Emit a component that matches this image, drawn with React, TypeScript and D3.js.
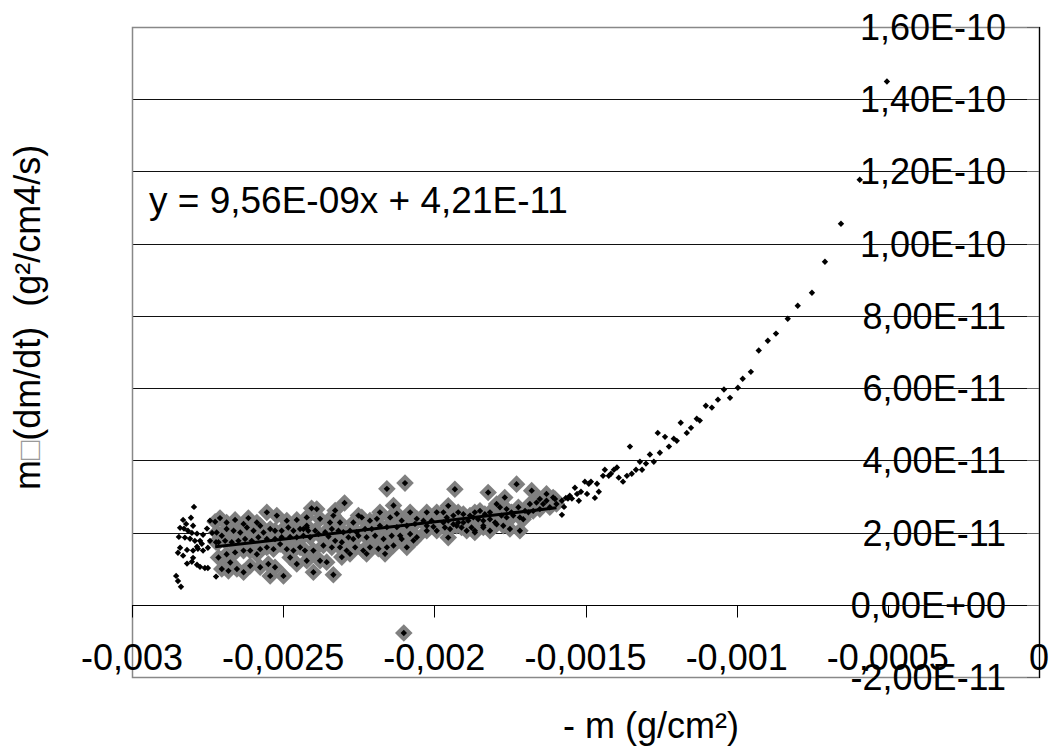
import React, { useRef, useEffect } from 'react';
import * as d3 from 'd3';

// values are given in units of 1e-4 (x) and 1e-11 (y)
const X_UNIT = 1e-4;
const Y_UNIT = 1e-11;

// early points, black markers only
const leftTail: [number, number][] = [
  [-27.95, 2.71], [-28.05, 2.41], [-28.31, 2.35], [-28.21, 2.24], [-27.98, 2.19], [-28.41, 2.13],
  [-28.28, 2.11], [-28.15, 2.05], [-28.02, 1.99], [-27.85, 1.97], [-28.45, 1.88], [-28.25, 1.86],
  [-28.08, 1.83], [-27.92, 1.77], [-27.75, 1.77], [-27.65, 1.94], [-27.69, 1.69], [-27.85, 1.61],
  [-28.41, 1.58], [-28.18, 1.52], [-27.98, 1.5], [-27.82, 1.55], [-27.65, 1.5], [-28.48, 1.44],
  [-28.31, 1.36], [-27.98, 1.3], [-28.02, 1.19], [-28.18, 1.14], [-27.85, 1.11], [-27.75, 1.05],
  [-27.59, 1.02], [-27.49, 1.02], [-27.42, 2.33], [-27.52, 2.11], [-28.54, 0.8], [-28.48, 0.66],
  [-28.38, 0.5], [-27.22, 0.78], [-27.35, 1.99], [-27.42, 1.77], [-27.49, 1.58],
];

// points used for the linear fit (grey markers)
const fitPoints: [number, number][] = [
  [-27.25, 2.3], [-27.09, 2.4], [-26.87, 2.28], [-26.59, 2.35], [-26.31, 2.24], [-26.15, 2.4],
  [-25.87, 2.28], [-25.54, 2.56], [-25.21, 2.47], [-24.88, 2.33], [-24.55, 2.35], [-24.22, 2.42],
  [-27.2, 2.0], [-27.03, 1.91], [-26.87, 2.1], [-26.64, 2.05], [-26.42, 2.0], [-26.2, 2.14],
  [-25.98, 2.05], [-25.76, 2.19], [-25.65, 2.0], [-25.43, 2.1], [-25.27, 2.05], [-25.05, 2.05],
  [-24.83, 2.14], [-24.66, 2.05], [-24.44, 2.1], [-24.22, 2.14], [-27.22, 1.73], [-27.14, 1.73],
  [-26.92, 1.77], [-26.7, 1.73], [-26.48, 1.77], [-26.26, 1.82], [-26.04, 1.77], [-25.82, 1.87],
  [-25.54, 1.82], [-25.27, 1.82], [-25.05, 1.87], [-24.77, 1.88], [-24.55, 1.87], [-24.33, 1.91],
  [-27.14, 1.31], [-26.87, 1.4], [-26.59, 1.45], [-26.31, 1.5], [-26.09, 1.5], [-25.76, 1.54],
  [-25.54, 1.59], [-25.32, 1.54], [-25.1, 1.68], [-24.88, 1.54], [-24.66, 1.5], [-24.44, 1.59],
  [-27.03, 0.99], [-26.81, 0.94], [-26.53, 0.99], [-26.31, 0.9], [-26.09, 1.08], [-25.76, 1.04],
  [-25.49, 1.13], [-25.27, 1.04], [-24.99, 0.8], [-25.43, 0.8], [-26.75, 1.17], [-25.87, 1.4],
  [-24.77, 1.31], [-24.55, 1.13], [-24.22, 1.22],
  [-21.57, 3.21], [-20.97, 3.37], [-22.97, 2.82], [-24.06, 2.67], [-23.89, 2.65], [-23.28, 2.61],
  [-23.34, 2.47], [-22.51, 2.47], [-22.4, 2.42], [-21.8, 2.56], [-21.35, 2.75], [-21.24, 2.52],
  [-20.8, 2.56], [-20.25, 2.56], [-19.92, 2.56], [-20.58, 2.38], [-20.36, 2.33], [-20.09, 2.33],
  [-21.08, 2.33], [-21.46, 2.42], [-21.9, 2.38], [-22.13, 2.33], [-22.68, 2.28], [-23.12, 2.28],
  [-23.45, 2.28], [-23.78, 2.38], [-24.22, 2.19], [-24.33, 2.1], [-24.17, 2.05], [-23.94, 2.05],
  [-23.61, 2.01], [-23.39, 2.1], [-23.17, 2.05], [-23.01, 2.01], [-22.79, 2.05], [-22.57, 2.01],
  [-22.29, 2.1], [-22.07, 2.1], [-21.8, 2.19], [-21.57, 2.15], [-21.24, 2.15], [-20.91, 2.19],
  [-20.64, 2.24], [-20.25, 2.19], [-20.03, 2.16], [-24.11, 1.87], [-23.83, 1.96], [-23.5, 1.89],
  [-23.28, 1.77], [-23.06, 1.73], [-22.84, 1.87], [-22.68, 1.82], [-22.51, 1.91], [-22.24, 1.87],
  [-21.96, 1.91], [-21.68, 1.82], [-21.41, 1.91], [-21.13, 1.91], [-20.8, 1.96], [-20.58, 1.87],
  [-20.25, 2.05], [-19.92, 2.05], [-24.0, 1.5], [-23.67, 1.64], [-23.39, 1.59], [-23.12, 1.59],
  [-22.9, 1.5], [-22.62, 1.59], [-22.35, 1.5], [-22.13, 1.59], [-21.85, 1.55], [-21.57, 1.59],
  [-21.35, 1.64], [-21.08, 1.82], [-20.91, 1.59], [-20.69, 1.78], [-24.28, 1.5], [-23.56, 1.18],
  [-23.06, 1.32], [-22.79, 1.41], [-22.24, 1.41], [-21.63, 1.41], [-24.0, 0.9], [-23.34, 0.83],
  [-23.78, 1.22], [-21.01, -0.78],
  [-19.32, 3.2], [-18.22, 3.11], [-17.28, 3.34], [-17.67, 2.97], [-16.78, 3.16], [-16.29, 3.07],
  [-19.7, 2.56], [-19.54, 2.74], [-19.37, 2.47], [-19.21, 2.56], [-19.04, 2.51], [-18.82, 2.47],
  [-18.66, 2.56], [-18.49, 2.6], [-18.33, 2.51], [-18.16, 2.56], [-17.94, 2.79], [-17.83, 2.7],
  [-17.61, 2.65], [-17.45, 2.56], [-17.22, 2.7], [-17.0, 2.6], [-16.84, 2.79], [-16.62, 2.83],
  [-16.51, 2.93], [-16.4, 2.79], [-16.29, 2.88], [-16.07, 2.97], [-16.01, 2.93], [-15.96, 2.79],
  [-16.18, 2.7], [-19.7, 2.28], [-19.54, 2.33], [-19.37, 2.23], [-19.21, 2.28], [-19.04, 2.28],
  [-18.88, 2.33], [-18.71, 2.42], [-18.55, 2.37], [-18.38, 2.33], [-18.16, 2.37], [-17.99, 2.28],
  [-17.78, 2.47], [-17.61, 2.42], [-17.39, 2.47], [-17.17, 2.42], [-17.06, 2.37], [-16.89, 2.56],
  [-16.73, 2.6], [-16.51, 2.65], [-19.65, 2.14], [-19.48, 2.1], [-19.26, 2.19], [-19.1, 2.14],
  [-18.93, 2.05], [-18.66, 2.05], [-18.38, 2.14], [-18.16, 2.05], [-17.94, 2.23], [-17.72, 2.19],
  [-17.5, 2.1], [-17.17, 2.05], [-19.54, 1.86], [-18.66, 2.0], [-18.38, 2.19], [-19.59, 2.42],
  [-18.77, 2.14],
];

// late points, black markers only
const rightTail: [number, number][] = [
  [-5.03, 14.49], [-5.93, 11.77], [-6.55, 10.55], [-7.08, 9.5], [-7.51, 8.64], [-7.98, 8.28],
  [-8.31, 7.92], [-8.7, 7.51], [-8.97, 7.31], [-9.27, 7.04], [-9.53, 6.45], [-9.8, 6.26],
  [-9.96, 6.01], [-10.22, 5.73], [-10.42, 5.96], [-10.62, 5.68], [-10.82, 5.46], [-11.02, 5.51],
  [-11.22, 5.1], [-11.32, 5.15], [-11.51, 4.9], [-11.65, 4.76], [-11.85, 5.04], [-11.98, 4.54],
  [-12.08, 4.6], [-12.24, 4.38], [-12.37, 4.65], [-12.54, 4.21], [-12.61, 4.76], [-12.74, 3.96],
  [-12.87, 4.16], [-13.0, 3.91], [-13.13, 3.74], [-13.2, 3.96], [-13.33, 3.74], [-13.47, 3.63],
  [-13.53, 4.38], [-13.63, 3.57], [-13.76, 3.41], [-13.9, 3.52], [-13.96, 3.8], [-14.06, 3.74],
  [-14.16, 3.63], [-14.23, 3.57], [-14.36, 3.74], [-14.42, 3.57], [-14.56, 3.13], [-14.62, 3.35],
  [-14.69, 2.96], [-14.82, 3.41], [-14.89, 3.35], [-14.95, 3.07], [-15.02, 3.41], [-15.15, 3.13],
  [-15.22, 2.88], [-15.28, 3.07], [-15.35, 3.24], [-15.45, 2.94], [-15.52, 3.02], [-15.58, 2.94],
  [-15.65, 2.96], [-15.71, 2.71], [-15.78, 2.88], [-15.78, 2.49],
];

// trendline from the chart's equation
const slope = 9.56e-9;
const intercept = 4.21e-11;

const xTicks = [-0.003, -0.0025, -0.002, -0.0015, -0.001, -0.0005, 0];
const xTickLabels = ['-0,003', '-0,0025', '-0,002', '-0,0015', '-0,001', '-0,0005', '0'];
const yTicks = [-2e-11, 0, 2e-11, 4e-11, 6e-11, 8e-11, 1e-10, 1.2e-10, 1.4e-10, 1.6e-10];
const yTickLabels = ['-2,00E-11', '0,00E+00', '2,00E-11', '4,00E-11', '6,00E-11', '8,00E-11',
  '1,00E-10', '1,20E-10', '1,40E-10', '1,60E-10'];

const FONT = '"Liberation Sans", Arial, sans-serif';

const App = () => {
  const svgRef = useRef<SVGSVGElement>(null);

  useEffect(() => {
    const width = 1054;
    const height = 749;
    const plot = { left: 132, right: 1039, top: 27, bottom: 677 };

    const root = d3.select(svgRef.current);
    root.selectAll('*').remove();
    const svg = root.attr('width', width).attr('height', height);

    svg.append('rect').attr('width', width).attr('height', height).attr('fill', '#fff');

    const x = d3.scaleLinear().domain([-0.003, 0]).range([plot.left, plot.right]);
    const y = d3.scaleLinear().domain([-2e-11, 1.6e-10]).range([plot.bottom, plot.top]);

    // horizontal gridlines
    svg.append('g')
      .selectAll('line')
      .data(yTicks.filter(d => d > 0 && d < 1.6e-10))
      .join('line')
      .attr('x1', plot.left).attr('x2', plot.right)
      .attr('y1', d => Math.round(y(d)) + 0.5).attr('y2', d => Math.round(y(d)) + 0.5)
      .attr('stroke', '#111').attr('stroke-width', 1);

    // plot frame
    svg.append('rect')
      .attr('x', plot.left + 0.5).attr('y', plot.top + 0.5)
      .attr('width', plot.right - plot.left).attr('height', plot.bottom - plot.top)
      .attr('fill', 'none').attr('stroke', '#888').attr('stroke-width', 1.5);

    const toPoint = (p: [number, number]) => [x(p[0] * X_UNIT), y(p[1] * Y_UNIT)];
    const diamond = (r: number) => `M0,${-r}L${r},0L0,${r}L${-r},0Z`;

    // grey markers of the fitted range
    svg.append('g')
      .selectAll('path')
      .data(fitPoints)
      .join('path')
      .attr('d', diamond(8.8))
      .attr('transform', d => { const [px, py] = toPoint(d); return `translate(${px},${py})`; })
      .attr('fill', '#808080');

    // trendline
    const fx = d3.extent(fitPoints, d => d[0] * X_UNIT) as [number, number];
    svg.append('path')
      .datum(fx)
      .attr('d', d3.line<number>().x(d => x(d)).y(d => y(slope * d + intercept)))
      .attr('stroke', '#000').attr('stroke-width', 3).attr('fill', 'none');

    // all measured points, small black diamonds
    const all = [...leftTail, ...fitPoints, ...rightTail];
    svg.append('g')
      .selectAll('path')
      .data(all)
      .join('path')
      .attr('d', diamond(3.2))
      .attr('transform', d => { const [px, py] = toPoint(d); return `translate(${px},${py})`; })
      .attr('fill', '#000');

    // x axis crossing at y = 0
    const y0 = Math.round(y(0)) + 0.5;
    svg.append('line')
      .attr('x1', plot.left).attr('x2', plot.right).attr('y1', y0).attr('y2', y0)
      .attr('stroke', '#000').attr('stroke-width', 1);
    svg.append('g')
      .selectAll('line')
      .data(xTicks)
      .join('line')
      .attr('x1', d => Math.round(x(d)) + 0.5).attr('x2', d => Math.round(x(d)) + 0.5)
      .attr('y1', y0).attr('y2', y0 + 12)
      .attr('stroke', '#000');
    svg.append('g')
      .selectAll('text')
      .data(xTicks)
      .join('text')
      .attr('x', d => x(d)).attr('y', 670)
      .attr('text-anchor', 'middle')
      .attr('font-family', FONT).attr('font-size', 36)
      .text((d, i) => xTickLabels[i]);

    // y axis on the right side (crossing at x = 0)
    svg.append('line')
      .attr('x1', plot.right + 0.5).attr('x2', plot.right + 0.5)
      .attr('y1', plot.top).attr('y2', plot.bottom + 1)
      .attr('stroke', '#000').attr('stroke-width', 1.2);
    svg.append('g')
      .selectAll('line')
      .data(yTicks)
      .join('line')
      .attr('x1', plot.right - 12).attr('x2', plot.right)
      .attr('y1', d => Math.round(y(d)) + 0.5).attr('y2', d => Math.round(y(d)) + 0.5)
      .attr('stroke', '#666');
    svg.append('g')
      .selectAll('text')
      .data(yTicks)
      .join('text')
      .attr('x', 1006).attr('y', d => y(d))
      .attr('dy', '0.36em')
      .attr('text-anchor', 'end')
      .attr('font-family', FONT).attr('font-size', 36)
      .text((d, i) => yTickLabels[i]);

    // trendline equation
    svg.append('text')
      .attr('x', 149).attr('y', 213)
      .attr('font-family', FONT).attr('font-size', 37)
      .text('y = 9,56E-09x + 4,21E-11');

    // axis titles
    svg.append('text')
      .attr('x', 563).attr('y', 738)
      .attr('font-family', FONT).attr('font-size', 36)
      .text('- m (g/cm²)');

    const yTitle = svg.append('text')
      .attr('transform', 'translate(40,490) rotate(-90)')
      .attr('font-family', FONT).attr('font-size', 36)
      .style('white-space', 'pre');
    yTitle.append('tspan').text('m');
    yTitle.append('tspan').attr('fill', '#999').attr('font-size', 32).text('□');
    yTitle.append('tspan').text('(dm/dt)  (g²/cm4/s)');
  }, []);

  return <svg ref={svgRef} style={{ position: 'absolute', left: 0, top: 0 }} />;
};

export default App;
